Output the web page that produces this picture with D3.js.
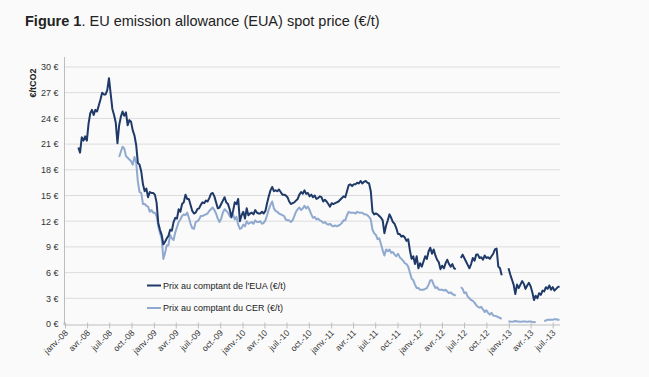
<!DOCTYPE html>
<html><head><meta charset="utf-8">
<script src="https://cdn.jsdelivr.net/npm/d3@7/dist/d3.min.js"></script>
<style>
html,body{margin:0;padding:0;background:#fafafa;}
svg{display:block;font-family:"Liberation Sans",Arial,sans-serif;}
</style></head>
<body><svg id="c" width="649" height="377"></svg>
<script>
// Weekly observations starting Monday 2008-02-25
const firstWeek = "2008-02-25";
const euaValues = [
20.6,20.0,21.8,21.4,21.9,21.4,23.4,24.6,25.0,24.4,
25.0,24.8,25.5,26.2,27.0,26.8,26.8,27.3,28.7,26.9,
25.1,24.4,23.5,21.1,23.2,24.2,24.8,24.3,24.7,23.2,
23.8,23.6,22.6,22.0,20.9,18.8,18.6,17.8,16.3,15.5,
15.8,14.8,15.4,15.3,15.3,15.1,14.2,11.8,11.0,10.4,
9.3,9.6,10.0,10.3,11.0,10.9,11.9,12.4,12.3,13.4,
13.1,14.0,14.2,15.1,14.6,14.6,13.9,13.2,12.9,13.0,
13.4,13.5,13.9,14.2,14.1,14.4,14.3,14.7,15.2,15.3,
14.9,14.2,13.5,13.6,14.0,14.4,14.8,14.2,14.0,13.4,
12.5,13.2,14.2,14.0,14.6,12.0,12.7,13.1,12.3,13.5,
12.7,12.9,13.0,12.8,13.3,13.0,12.9,12.9,13.1,12.9,
13.2,14.1,14.9,15.6,16.0,15.5,15.6,15.5,15.7,15.4,
15.1,15.1,15.0,14.8,14.3,14.0,14.1,14.2,14.4,14.6,
15.1,15.4,15.2,15.6,15.2,15.3,14.9,15.1,14.8,15.0,
14.6,14.7,14.9,14.8,14.3,14.5,14.3,14.0,13.7,14.1,
14.0,14.1,14.2,14.3,14.5,14.7,14.9,14.8,15.5,16.2,
16.3,16.1,16.3,16.3,16.5,16.4,16.7,16.4,16.6,16.7,
16.5,16.4,15.5,13.1,12.8,12.9,12.8,12.6,12.4,12.1,
10.6,11.5,12.1,12.8,12.4,11.9,11.7,11.2,10.5,10.5,
10.2,10.3,10.1,9.7,9.9,8.6,7.6,7.9,7.0,7.9,
6.5,7.1,6.7,7.3,7.9,7.6,8.5,8.9,8.2,8.7,
8.0,7.5,7.2,6.4,6.8,6.5,7.1,7.5,7.0,6.7,
7.0,6.5,6.4,null,null,7.7,8.1,7.7,7.3,6.9,
6.5,7.0,7.7,7.4,8.1,8.1,7.7,7.8,7.5,8.0,
7.7,7.8,7.6,7.9,8.2,8.7,8.8,6.7,6.5,5.7,
null,null,null,6.5,5.8,5.2,4.6,3.5,4.6,4.2,
4.6,5.0,4.7,4.1,4.5,4.8,4.4,3.7,2.8,3.3,
3.0,3.6,3.4,3.9,3.8,4.3,4.1,4.5,4.0,4.3,
3.9,4.1,4.3,4.4];
const cerValues = [
null,null,null,null,null,null,null,null,null,null,
null,null,null,null,null,null,null,null,null,null,
null,null,null,null,19.5,20.1,20.7,20.5,19.6,19.4,
19.2,19.0,18.6,19.5,18.9,16.6,15.4,15.3,14.0,14.0,
13.8,13.7,13.1,13.3,13.0,13.0,12.6,11.4,10.6,10.0,
7.6,8.3,9.2,9.2,10.4,10.0,9.8,10.7,11.3,11.9,
12.2,12.6,12.8,12.7,13.0,12.4,11.7,11.2,11.1,11.9,
12.0,12.2,12.6,12.6,12.7,12.8,12.9,13.2,13.4,13.6,
13.3,12.9,12.3,11.9,12.3,13.0,13.4,13.2,13.0,12.6,
12.4,12.8,12.2,12.5,11.6,11.1,11.2,11.6,11.4,12.0,
11.7,11.8,11.9,11.7,12.1,11.9,11.9,12.0,11.7,11.8,
12.1,12.7,13.4,13.9,14.3,13.5,13.2,13.1,12.9,12.8,
12.7,12.6,12.2,12.1,12.1,11.9,12.1,12.6,13.1,13.4,
13.6,13.3,13.5,13.8,13.5,13.7,13.3,12.8,12.4,12.5,
12.2,12.3,12.1,12.0,11.8,11.9,11.7,11.6,11.7,11.5,
11.4,11.5,11.4,11.5,11.6,11.8,12.1,12.1,12.7,13.1,
13.0,13.0,13.0,12.9,13.1,13.0,13.0,13.0,12.8,12.8,
12.7,12.5,12.2,11.0,10.6,10.4,9.9,10.0,9.3,8.6,
8.0,8.7,8.5,8.7,8.3,8.4,8.1,7.9,8.2,7.8,
7.6,7.4,7.1,7.0,6.7,6.0,5.3,5.1,4.6,4.2,
4.2,4.0,4.0,4.0,4.1,4.2,4.6,5.1,5.1,4.6,
4.2,4.3,4.0,4.0,4.0,3.9,4.0,3.8,3.6,3.7,
3.5,3.4,3.3,null,null,4.3,4.1,3.6,3.7,3.2,
3.0,2.8,2.7,2.5,2.2,2.0,1.9,2.0,1.7,1.4,
1.6,1.3,1.1,1.3,1.0,0.95,0.9,0.8,0.7,0.6,
null,null,null,0.3,0.3,0.25,0.3,0.35,0.3,0.3,
0.25,0.3,0.3,0.3,0.25,0.3,0.3,0.25,0.2,0.25,
null,null,null,null,0.35,0.4,0.5,0.5,0.5,0.5,
0.55,0.55,0.5,0.5];
const yTicks = [0,3,6,9,12,15,18,21,24,27,30];
const xTickLabels = ["janv.-08","avr.-08","juil.-08","oct.-08","janv.-09","avr.-09","juil.-09","oct.-09",
"janv.-10","avr.-10","juil.-10","oct.-10","janv.-11","avr.-11","juil.-11","oct.-11",
"janv.-12","avr.-12","juil.-12","oct.-12","janv.-13","avr.-13","juil.-13"];
const seriesNames = ["Prix au comptant de l'EUA (€/t)","Prix au comptant du CER (€/t)"];
const seriesColors = ["#1f3a68","#8fa9cf"];

const parse = d3.timeParse("%Y-%m-%d");
const start = parse(firstWeek);
const dates = euaValues.map((_, i) => d3.timeDay.offset(start, 7 * i));

const svg = d3.select("#c");
const x = d3.scaleTime().domain([new Date(2008,0,1), new Date(2013,6,31)]).range([65, 560]);
const y = d3.scaleLinear().domain([0,30]).range([324, 67]);

// title
const title = svg.append("text").attr("x",25).attr("y",26).attr("font-size",14.5).attr("fill","#222");
title.append("tspan").attr("font-weight","bold").text("Figure 1");
title.append("tspan").text(". EU emission allowance (EUA) spot price (€/t)");

// grid
svg.append("g").selectAll("line").data(yTicks.filter(d=>d>0)).join("line")
  .attr("x1",65).attr("x2",560).attr("y1",d=>y(d)).attr("y2",d=>y(d))
  .attr("stroke","#dcdcdc").attr("stroke-width",1);

// y axis labels
const yAxis = d3.axisLeft(y).tickValues(yTicks).tickSize(0).tickPadding(6).tickFormat(d=>d+" €");
const gy = svg.append("g").attr("transform","translate(64.5,0)").call(yAxis);
gy.select(".domain").remove();
gy.selectAll("text").attr("font-size",9).attr("fill","#333").attr("font-family","Liberation Sans, Arial, sans-serif");
svg.append("line").attr("x1",64.5).attr("x2",64.5).attr("y1",57).attr("y2",324).attr("stroke","#bdbdbd");

svg.append("text").attr("transform","translate(36,83) rotate(-90)").attr("text-anchor","middle")
  .attr("font-size",9).attr("font-weight","bold").attr("fill","#222").text("€/tCO2");

// x axis
const tickDates = xTickLabels.map((_, i) => d3.timeMonth.offset(new Date(2008,0,1), 3*i));
const xAxis = d3.axisBottom(x).tickValues(tickDates).tickSize(4).tickFormat((d,i)=>xTickLabels[i]);
const gx = svg.append("g").attr("transform","translate(0,324.5)").call(xAxis);
gx.select(".domain").attr("stroke","#bdbdbd").attr("d","M64,-2V0.5H560");
gx.selectAll(".tick line").attr("stroke","#bdbdbd").attr("y1",-2);
gx.selectAll("text").attr("font-size",8.5).attr("fill","#333")
  .attr("font-family","Liberation Sans, Arial, sans-serif")
  .attr("text-anchor","end").attr("dy",0).attr("y",0)
  .attr("transform","translate(3,9) rotate(-45)");

// lines
const line = d3.line().defined(d=>d[1]!==null).x(d=>x(d[0])).y(d=>y(d[1])).curve(d3.curveLinear);
[cerValues, euaValues].forEach((vals, j) => {
  const idx = j===0 ? 1 : 0;
  svg.append("path").datum(dates.map((d,i)=>[d, vals[i]]))
    .attr("d", line).attr("fill","none").attr("stroke",seriesColors[idx])
    .attr("stroke-width",2).attr("stroke-linejoin","round");
});

// legend
const leg = svg.append("g");
seriesNames.forEach((n,i)=>{
  const yy = 285.5 + i*22.5;
  leg.append("line").attr("x1",147).attr("x2",161).attr("y1",yy).attr("y2",yy)
    .attr("stroke",seriesColors[i]).attr("stroke-width",2);
  leg.append("text").attr("x",163).attr("y",yy).attr("dy","0.35em").attr("font-size",9).attr("fill","#222").text(n);
});
</script></body></html>
